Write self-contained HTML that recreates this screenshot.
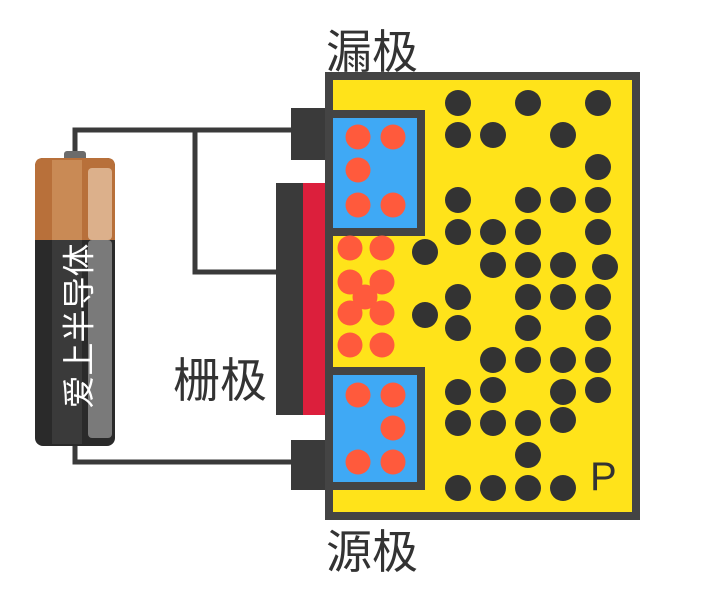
<!DOCTYPE html>
<html><head><meta charset="utf-8"><style>
body{margin:0;background:#fff;width:716px;height:592px;overflow:hidden}
svg{display:block}
text{font-family:"Liberation Sans","Noto Sans CJK SC",sans-serif}
</style></head><body>
<svg width="716" height="592" viewBox="0 0 716 592">
<g fill="none" stroke="#3a3a3a" stroke-width="5">
<polyline points="75,155 75,130 293,130"/>
<polyline points="195,130 195,272 278,272"/>
<polyline points="75,440 75,462 293,462"/>
</g>
<g>
<rect x="64" y="151" width="22" height="12" rx="3" fill="#6b6b6b"/>
<rect x="35" y="158" width="80" height="288" rx="8" fill="#2a2a2a"/>
<path d="M43 158 H107 Q115 158 115 166 V240 H35 V166 Q35 158 43 158Z" fill="#b8703a"/>
<rect x="52" y="160" width="30" height="80" fill="#c98a55"/>
<rect x="52" y="240" width="30" height="204" fill="#3a3a3a"/>
<rect x="88" y="168" width="24" height="72" rx="4" fill="#dcb08b"/>
<rect x="88" y="240" width="24" height="198" rx="4" fill="#7a7a7a"/>
<text x="0" y="0" transform="translate(82,326) rotate(-90)" font-size="33" fill="#fff" text-anchor="middle" dominant-baseline="middle">爱上半导体</text>
</g>
<rect x="276" y="183" width="28" height="232" fill="#3a3a3a"/>
<rect x="303" y="183" width="22" height="232" fill="#dc1f3c"/>
<rect x="291" y="108" width="36" height="52" fill="#3a3a3a"/>
<rect x="291" y="440" width="36" height="50" fill="#3a3a3a"/>
<rect x="329" y="76" width="307" height="440" fill="#ffe31a" stroke="#444" stroke-width="8"/>
<rect x="329" y="114" width="92" height="118" fill="#3fa9f5" stroke="#444" stroke-width="8"/>
<rect x="329" y="371" width="92" height="115" fill="#3fa9f5" stroke="#444" stroke-width="8"/>
<g id="dots"></g>
<text x="590" y="490" font-size="40" fill="#333">P</text>
<text x="326" y="68" font-size="46" fill="#333">漏极</text>
<text x="326" y="568" font-size="46" fill="#333">源极</text>
<text x="173" y="397" font-size="47" fill="#333">栅极</text>
</svg>
<script>
const holes=[[458,103],[528,103],[598,103],[458,135],[493,135],[563,135],[598,167],[458,200],[528,200],[563,200],[598,200],[458,232],[493,232],[528,232],[598,232],[425,252],[493,265],[528,265],[563,265],[605,267],[458,297],[528,297],[563,297],[598,297],[425,315],[458,328],[528,328],[598,328],[493,360],[528,360],[563,360],[598,360],[458,392],[493,390],[563,392],[598,390],[458,423],[493,423],[528,423],[563,420],[528,455],[458,488],[493,488],[528,488],[563,488]];
const electrons=[[358,137],[393,137],[358,170],[358,205],[393,205],[358,395],[393,395],[393,428],[358,462],[393,462],[350,248],[382,248],[350,282],[382,282],[365,297],[350,313],[382,313],[350,345],[382,345]];
const g=document.getElementById('dots');
const ns='http://www.w3.org/2000/svg';
holes.forEach(p=>{const c=document.createElementNS(ns,'circle');c.setAttribute('cx',p[0]);c.setAttribute('cy',p[1]);c.setAttribute('r',13);c.setAttribute('fill','#333');


g.appendChild(c);});
electrons.forEach(p=>{const c=document.createElementNS(ns,'circle');c.setAttribute('cx',p[0]);c.setAttribute('cy',p[1]);c.setAttribute('r',12.5);c.setAttribute('fill','#ff5a3c');


g.appendChild(c);});
</script>
</body></html>
